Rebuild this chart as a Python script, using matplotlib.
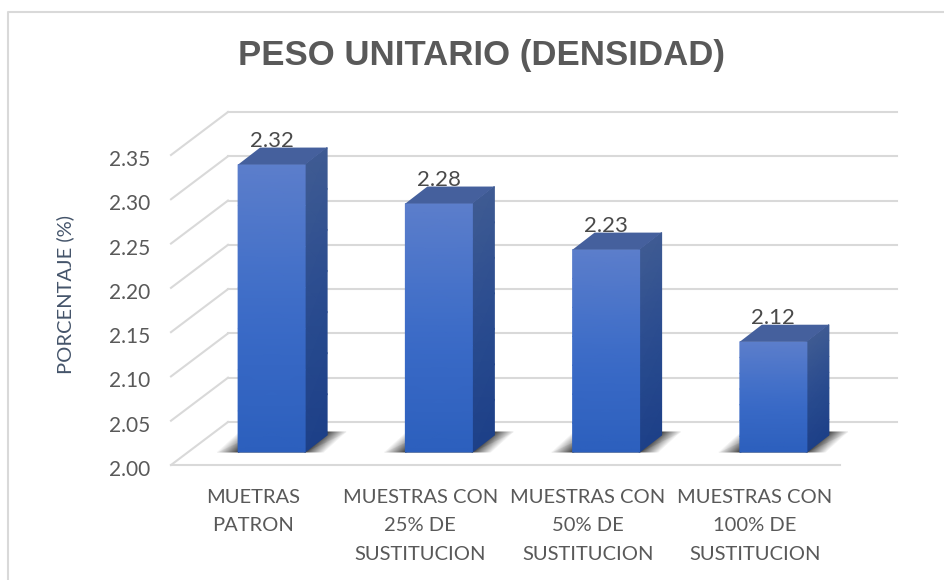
import numpy as np
import matplotlib
matplotlib.use('Agg')
import matplotlib.pyplot as plt
from matplotlib.colors import LinearSegmentedColormap
from matplotlib.lines import Line2D
from matplotlib.transforms import Affine2D

title = 'PESO UNITARIO (DENSIDAD)'
ylabel = 'PORCENTAJE (%)'
categories = ['MUETRAS\nPATRON',
              'MUESTRAS CON\n25% DE\nSUSTITUCION',
              'MUESTRAS CON\n50% DE\nSUSTITUCION',
              'MUESTRAS CON\n100% DE\nSUSTITUCION']
# heights as drawn, labels as printed on the bars
values = [2.32, 2.276, 2.224, 2.12]
value_labels = ['2.32', '2.28', '2.23', '2.12']
yticks = [2.00, 2.05, 2.10, 2.15, 2.20, 2.25, 2.30, 2.35]

W, H = 944, 580
fig = plt.figure(figsize=(W/100, H/100), dpi=100)

# front plane of the 3d box, in image pixels
left, right, bottom, top = 171, 840, 465, 155
ax = fig.add_axes([left/W, 1-bottom/H, (right-left)/W, (bottom-top)/H])

# pixels -> data units
ux = 4/(right-left)
uy = 0.35/(bottom-top)
wall_dx, wall_dy = 57*ux, 43*uy
bar_dx, bar_dy = 17*ux, 17*uy
bar_w = 67*ux
bar_base = 2.00 + 13*uy
side_dx, side_dy = 22*ux, 17*uy

grid_c = '#d9d9d9'
text_c = '#595959'
x = np.arange(len(values))

# walls
for t in yticks:
    ax.plot([-0.5, -0.5+wall_dx], [t, t+wall_dy], color=grid_c, lw=1.5, clip_on=False, zorder=1)
    ax.plot([-0.5+wall_dx, 3.5+wall_dx], [t+wall_dy, t+wall_dy], color=grid_c, lw=1.5, clip_on=False, zorder=1)
ax.plot([-0.5, 3.5], [2.00, 2.00], color=grid_c, lw=1.5, clip_on=False, zorder=1)

front_cmap = LinearSegmentedColormap.from_list('front', ['#2c5fbd', '#3c6cc8', '#5c7ecb'])
side_cmap = LinearSegmentedColormap.from_list('side', ['#1d4088', '#2a4c8f', '#3f5b93'])
shadow_cmap = LinearSegmentedColormap.from_list('shadow', ['#ffffff', '#3a3a3a'])

for xi, v, lab in zip(x, values, value_labels):
    x0 = xi + bar_dx - bar_w/2
    x1 = xi + bar_dx + bar_w/2

    # floor shadow
    sx = np.array([x0-21*ux, x0, x1, x1+19*ux])
    sy = np.array([bar_base, bar_base+20*uy])
    SX = np.vstack([sx, sx+22*ux])
    SY = np.vstack([np.full(4, sy[0]), np.full(4, sy[1])])
    SC = np.array([[0, 1, 1, 0], [0, 1, 1, 0]], dtype=float)
    ax.pcolormesh(SX, SY, SC, cmap=shadow_cmap, vmin=0, vmax=1, shading='gouraud',
                  clip_on=False, zorder=2)

    ytop = v + bar_dy
    ys = np.linspace(bar_base, ytop, 8)
    c = np.linspace(0, 1, 8)

    # front face
    FX = np.column_stack([np.full(8, x0), np.full(8, x1)])
    FY = np.column_stack([ys, ys])
    FC = np.column_stack([c, c])
    ax.pcolormesh(FX, FY, FC, cmap=front_cmap, vmin=0, vmax=1, shading='gouraud',
                  clip_on=False, zorder=4)

    # side face
    SX = np.column_stack([np.full(8, x1), np.full(8, x1+side_dx)])
    SY = np.column_stack([ys, ys+side_dy])
    ax.pcolormesh(SX, SY, FC, cmap=side_cmap, vmin=0, vmax=1, shading='gouraud',
                  clip_on=False, zorder=3)

    # top face
    ax.fill([x0, x1, x1+side_dx, x0+side_dx], [ytop, ytop, ytop+side_dy, ytop+side_dy],
            color='#45609d', lw=0, clip_on=False, zorder=4)

    ax.text(xi + bar_dx, ytop + 24*uy, lab, ha='center', va='center', fontsize=16,
            family='Lato', color='#4a4a4a', zorder=5, clip_on=False)

ax.set_xlim(-0.5, 3.5)
ax.set_ylim(2.00, 2.35)
for s in ax.spines.values():
    s.set_visible(False)
ax.patch.set_visible(False)

ax.set_yticks(yticks, ['%.2f' % t for t in yticks], family='Lato', fontsize=15, color=text_c)
ax.set_xticks(x - 1.5*ux, categories, family='Lato', fontsize=14.5, color=text_c)
ax.tick_params(axis='both', length=0)
ax.tick_params(axis='y', pad=15)
ax.tick_params(axis='x', pad=17)
for lbl in ax.get_xticklabels():
    lbl.set_linespacing(1.83)
# labels sit a bit under their gridline in the original
for lbl in ax.get_yticklabels():
    lbl.set_transform(lbl.get_transform() + Affine2D().translate(0, -3))

fig.text(65/W, 1-294/H, ylabel, rotation=90, ha='center', va='center', family='Lato',
         fontsize=14.5, color='#44546a')
fig.text(482/W, 1-56/H, title, ha='center', va='center', family='Liberation Sans',
         fontweight='bold', fontsize=25, color=text_c)

# chart border, cut off by the screenshot at right and bottom
fig.add_artist(Line2D([8/W, 8/W, 1], [0, 1-12/H, 1-12/H], color=grid_c, lw=1.5))

fig.savefig('out.png', dpi=100)
